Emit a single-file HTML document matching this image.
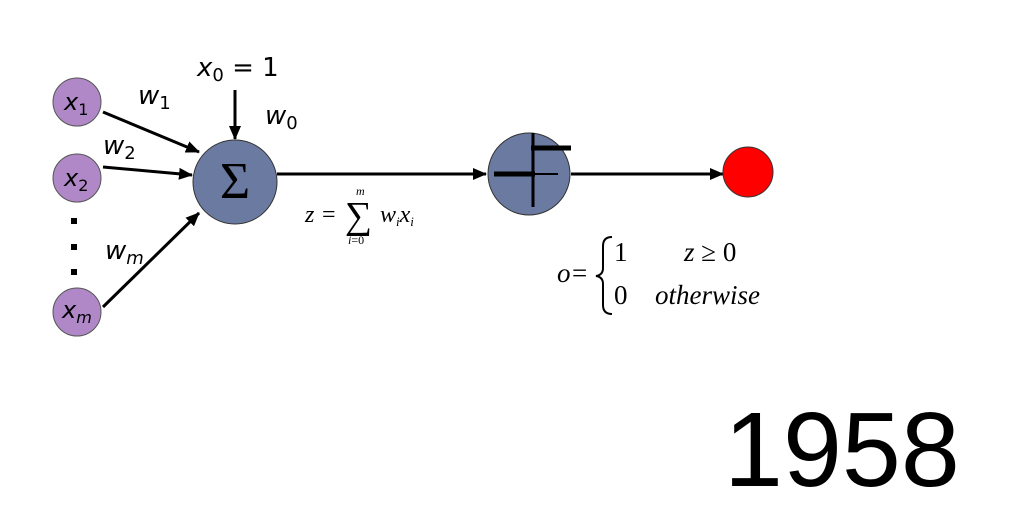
<!DOCTYPE html>
<html><head><style>
body{margin:0;background:#fff;}
svg{display:block}
.s{font-family:"DejaVu Sans","Liberation Sans",sans-serif;font-style:italic;}
.m{font-family:"Liberation Serif",serif;font-style:italic;}
.r{font-family:"Liberation Serif",serif;}
</style></head><body>
<svg width="1012" height="508" viewBox="0 0 1012 508" xmlns="http://www.w3.org/2000/svg">
<defs><marker id="a" markerWidth="14" markerHeight="12" refX="13" refY="6" orient="auto" markerUnits="userSpaceOnUse"><path d="M0,0 L14,6 L0,12 z" fill="#000"/></marker></defs>
<g stroke="#000" stroke-width="3" marker-end="url(#a)">
<line x1="103" y1="112" x2="199" y2="152"/>
<line x1="103" y1="167" x2="192" y2="175"/>
<line x1="103" y1="307" x2="199" y2="213"/>
<line x1="235" y1="90" x2="235" y2="139"/>
<line x1="277" y1="174" x2="486" y2="174"/>
<line x1="571" y1="174" x2="723" y2="174"/>
</g>
<g fill="#b088c8" stroke="#555" stroke-width="1">
<circle cx="77" cy="102" r="24"/><circle cx="77" cy="178" r="24"/><circle cx="77" cy="312" r="24"/>
</g>
<rect x="71" y="218" width="6" height="6"/><rect x="71" y="244" width="6" height="6"/><rect x="71" y="269" width="6" height="6"/>
<circle cx="235" cy="182" r="42" fill="#6b7aa0" stroke="#333"/>
<text x="235" y="198" text-anchor="middle" class="r" font-size="52">Σ</text>
<circle cx="529" cy="174" r="41" fill="#6b7aa0" stroke="#333"/>
<g stroke="#000">
<line x1="494" y1="174" x2="535" y2="174" stroke-width="5"/>
<line x1="535" y1="174" x2="558" y2="174" stroke-width="2"/>
<line x1="533" y1="133" x2="533" y2="207" stroke-width="3"/>
<line x1="531" y1="148" x2="571" y2="148" stroke-width="5"/>
</g>
<circle cx="748" cy="172" r="25" fill="#f00" stroke="#333"/>
<g class="s" font-size="24">
<text x="64" y="110">x<tspan font-size="16" font-style="normal" dy="5">1</tspan></text>
<text x="64" y="186">x<tspan font-size="16" font-style="normal" dy="5">2</tspan></text>
<text x="62" y="318">x<tspan font-size="16" dy="5">m</tspan></text>
<text x="138" y="104" font-size="26">w<tspan font-size="18" font-style="normal" dy="5">1</tspan></text>
<text x="103" y="154" font-size="26">w<tspan font-size="18" font-style="normal" dy="5">2</tspan></text>
<text x="105" y="259" font-size="26">w<tspan font-size="18" dy="5">m</tspan></text>
<text x="265" y="124" font-size="26">w<tspan font-size="18" font-style="normal" dy="5">0</tspan></text>
<text x="197" y="76" font-size="26">x<tspan font-size="18" font-style="normal" dy="5">0</tspan><tspan font-style="normal" dy="-5"> = 1</tspan></text>
</g>
<g class="m">
<text x="305" y="222" font-size="24">z</text>
<text x="322" y="222" font-size="24" class="r" font-style="normal">=</text>
<text x="345" y="228" font-size="38" class="r" font-style="normal">∑</text>
<text x="356" y="195" font-size="12">m</text>
<text x="348" y="244" font-size="12">i<tspan font-style="normal">=0</tspan></text>
<text x="380" y="222" font-size="24">w<tspan font-size="13" dy="4">i</tspan><tspan dy="-4">x</tspan><tspan font-size="13" dy="4">i</tspan></text>
<text x="557" y="282" font-size="27">o</text>
<text x="572" y="282" font-size="27" class="r" font-style="normal">=</text>
<path d="M612,237 Q603,237 603,246 L603,268 Q603,275 596,276 Q603,277 603,284 L603,305 Q603,314 612,314" fill="none" stroke="#000" stroke-width="2"/>
<text x="614" y="261" font-size="27" class="r" font-style="normal">1</text>
<text x="684" y="261" font-size="27">z <tspan font-style="normal">≥ 0</tspan></text>
<text x="614" y="304" font-size="27" class="r" font-style="normal">0</text>
<text x="655" y="304" font-size="27">otherwise</text>
</g>
<text x="724" y="486" font-family="Liberation Sans,sans-serif" font-size="106">1958</text>
</svg>
</body></html>
